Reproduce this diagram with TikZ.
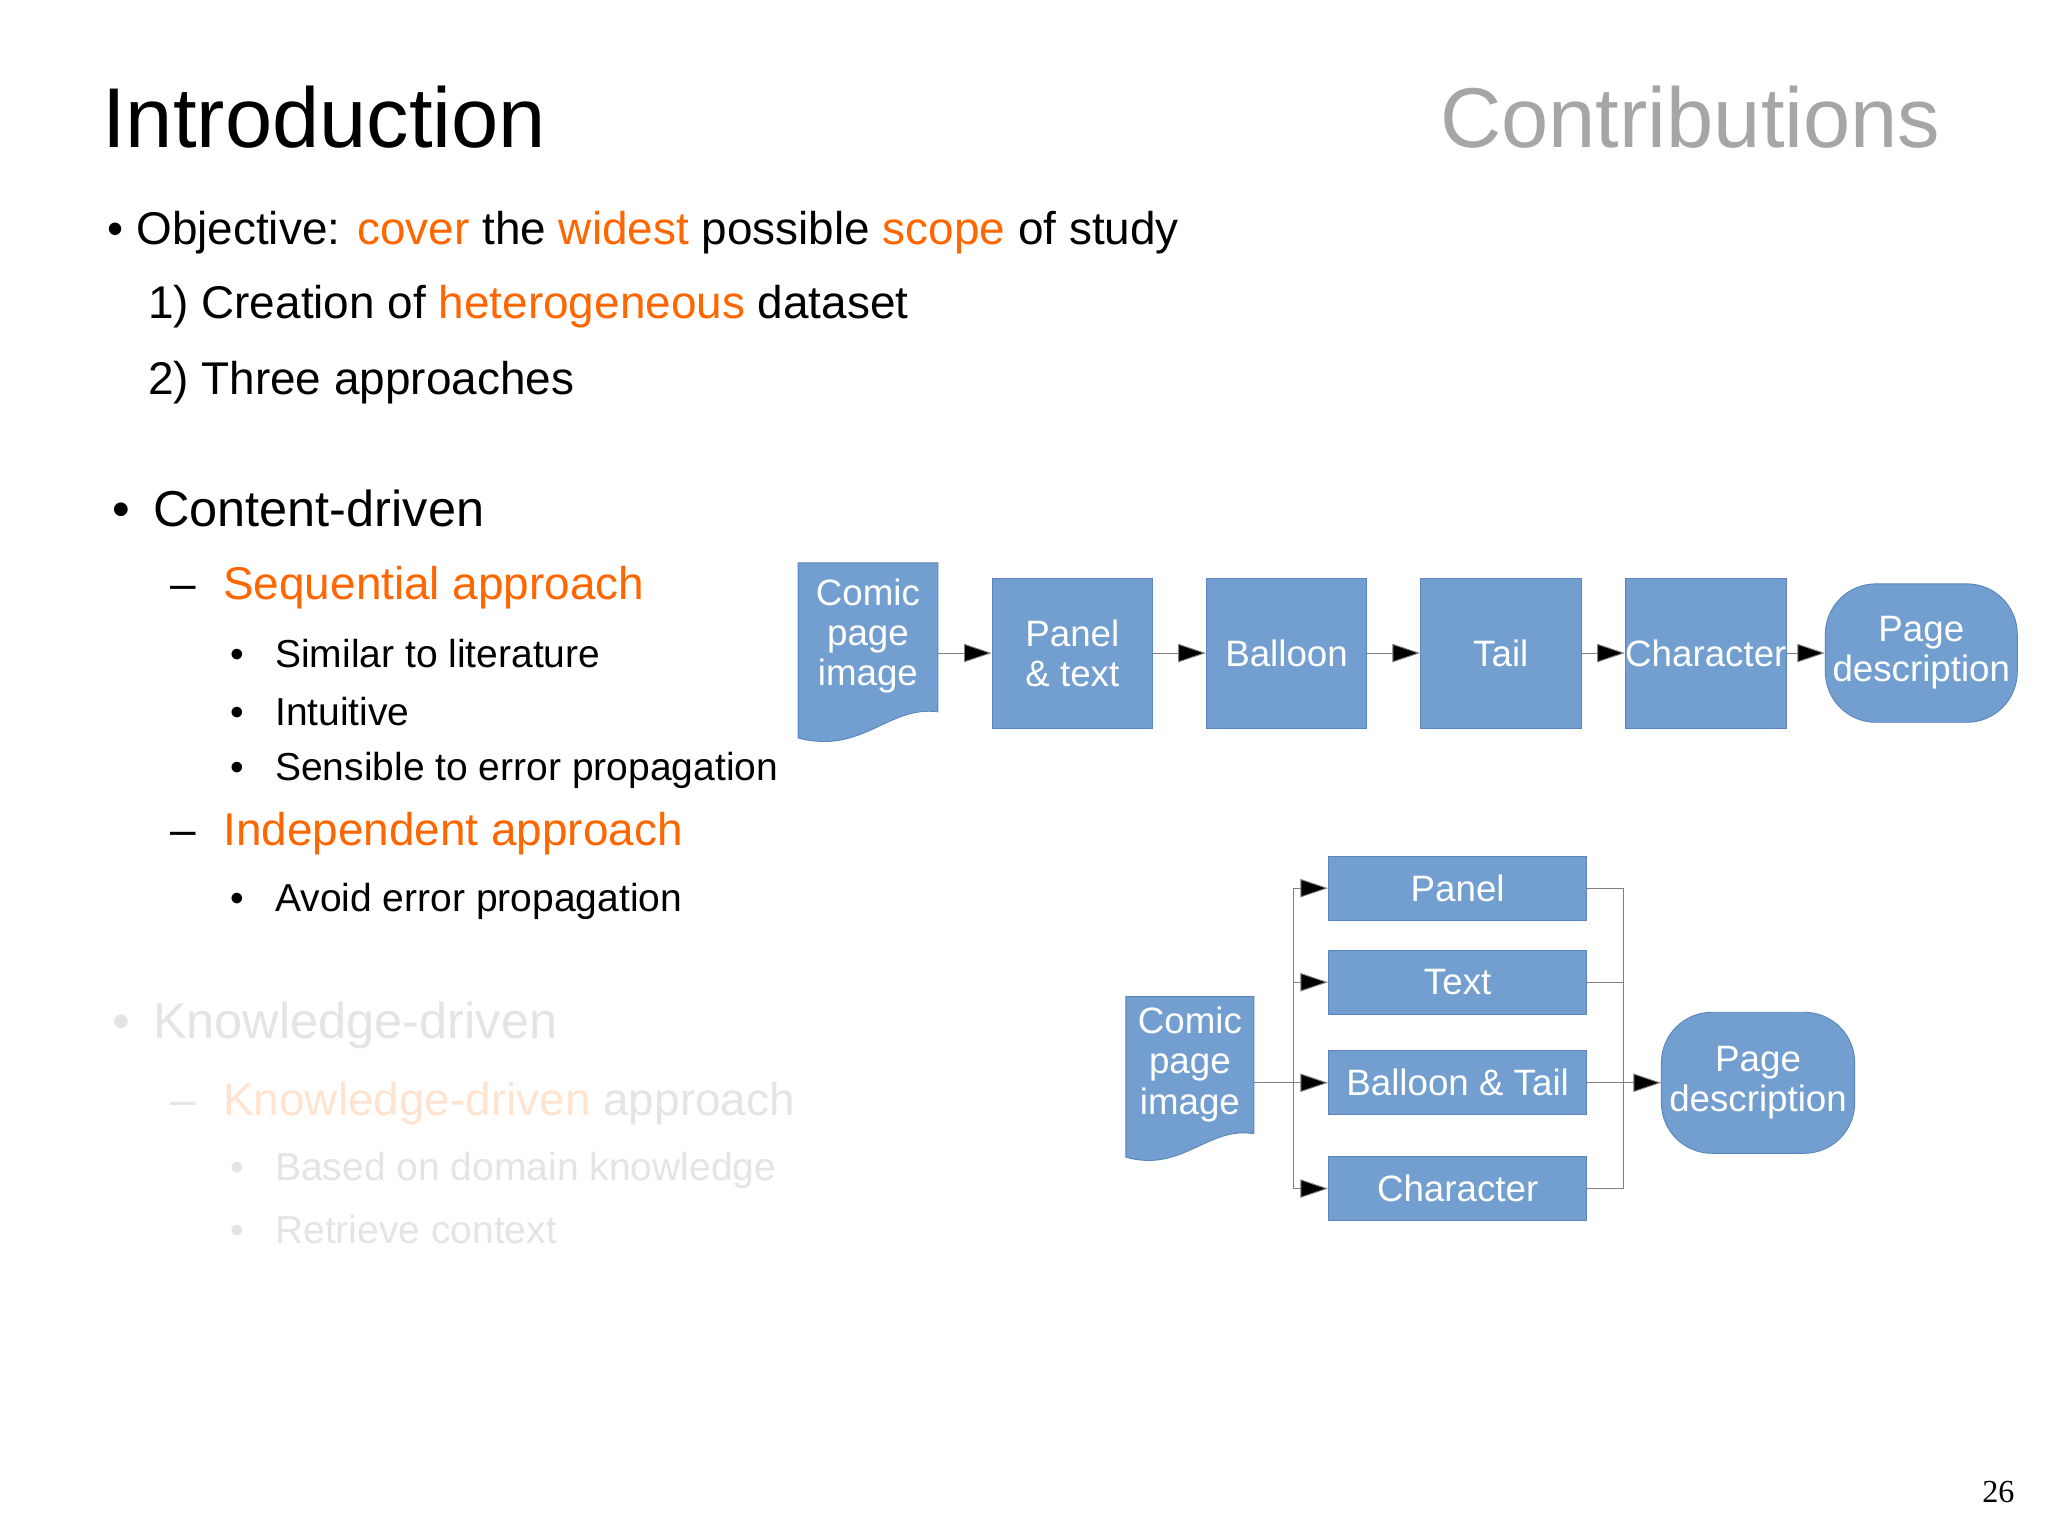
\documentclass[tikz,border=0pt]{standalone}
\usepackage{fontspec}
\setmainfont{Liberation Sans}
\usetikzlibrary{arrows.meta,positioning}
\definecolor{boxblue}{HTML}{729FCF}
\definecolor{boxline}{HTML}{5B86BD}
\definecolor{hiorange}{HTML}{FF6600}
\definecolor{fadegray}{HTML}{E4E4E4}
\definecolor{fadeorange}{HTML}{FFE3D1}
\definecolor{titlegray}{HTML}{A6A6A6}
\newcommand{\hi}[1]{\textcolor{hiorange}{#1}}
\begin{document}
\begin{tikzpicture}[x=0.02cm,y=-0.02cm,% one unit is one pixel of the slide
		every node/.style={inner sep=0pt},
		stage/.style={rectangle,draw=boxline,fill=boxblue,text=white,align=center,
			font=\fontsize{16}{17.5}\selectfont},
		page/.style={stage,rounded corners=22pt},
		doc/.style={text=white,align=center,font=\fontsize{16}{17.5}\selectfont},
		flow/.style={draw=gray,thin,-{Triangle[length=12pt,width=8pt,fill=black]}},
		bus/.style={draw=gray,thin},
		body/.style={anchor=west,font=\fontsize{20}{24}\selectfont},
		sub/.style={anchor=west,font=\fontsize{17}{20}\selectfont}
	]
	\useasboundingbox[fill=white] (0,0) rectangle (1568,1175);
	% titles
	\node[anchor=west,font=\fontsize{37}{40}\selectfont](T1) at (78,90){Introduction};
	\node[anchor=east,text=titlegray,font=\fontsize{37}{40}\selectfont](T2) at (1486,90){Contributions};
	% text on the left
	\node[body](L1) at (82,178){• Objective: \hi{cover} the \hi{widest} possible \hi{scope} of study};
	\node[body](L2) at (113,235){1) Creation of \hi{heterogeneous} dataset};
	\node[body](L3) at (113,293){2) Three approaches};
	\node[anchor=west,font=\fontsize{22}{26}\selectfont](L4) at (86,389){•\hspace{0.45em}Content-driven};
	\node[body](L5) at (130,450){–\hspace{0.6em}\hi{Sequential approach}};
	\node[sub](L6) at (176,500){•\hspace{0.8em}Similar to literature};
	\node[sub](L7) at (176,545){•\hspace{0.8em}Intuitive};
	\node[sub](L8) at (176,590){•\hspace{0.8em}Sensible to error propagation};
	\node[body](L9) at (130,638){–\hspace{0.6em}\hi{Independent approach}};
	\node[sub](L10) at (176,690){•\hspace{0.8em}Avoid error propagation};
	\node[anchor=west,text=fadegray,font=\fontsize{22}{26}\selectfont](K1) at (86,785){•\hspace{0.45em}Knowledge-driven};
	\node[body,text=fadegray](K2) at (130,845){–\hspace{0.6em}\textcolor{fadeorange}{Knowledge-driven} approach};
	\node[sub,text=fadegray](K3) at (176,896){•\hspace{0.8em}Based on domain knowledge};
	\node[sub,text=fadegray](K4) at (176,941){•\hspace{0.8em}Retrieve context};
	\node[font=\fontsize{14}{16}\selectfont](N) at (1530,1142){\fontspec{Liberation Serif}26};
	% sequential chain
	\filldraw[draw=boxline,fill=boxblue] (611,431) -- (718,431) -- (718,545)
		.. controls (680,540) and (660,578) .. (611,565) -- cycle;
	\node[doc](S0) at (664.5,487){Comic\\page\\image};
	\node[stage,minimum width=2.46cm,minimum height=2.3cm](S1) at (821,500){Panel\\\& text};
	\node[stage,minimum width=2.46cm,minimum height=2.3cm](S2) at (985,500){Balloon};
	\node[stage,minimum width=2.46cm,minimum height=2.3cm](S3) at (1149,500){Tail};
	\node[stage,minimum width=2.46cm,minimum height=2.3cm](S4) at (1306,500){Character};
	\node[page,minimum width=2.94cm,minimum height=2.12cm](S5) at (1471,500){Page\\description};
	\coordinate (S0e) at (718,500);
	\draw[flow] (S0e) -- (S1);
	\draw[flow] (S1) -- (S2);
	\draw[flow] (S2) -- (S3);
	\draw[flow] (S3) -- (S4);
	\draw[flow] (S4) -- (S5);
	% independent branches
	\filldraw[draw=boxline,fill=boxblue] (862,763) -- (960,763) -- (960,868)
		.. controls (925,862) and (905,898) .. (862,886) -- cycle;
	\node[doc](I0) at (911,815){Comic\\page\\image};
	\node[stage,minimum width=3.96cm,minimum height=0.98cm](I1) at (1116,680){Panel};
	\node[stage,minimum width=3.96cm,minimum height=0.98cm](I2) at (1116,752){Text};
	\node[stage,minimum width=3.96cm,minimum height=0.98cm](I3) at (1116,829){Balloon \& Tail};
	\node[stage,minimum width=3.96cm,minimum height=0.98cm](I4) at (1116,910){Character};
	\node[page,minimum width=2.96cm,minimum height=2.16cm](I5) at (1346,829){Page\\description};
	\coordinate (I0e) at (960,829);
	\coordinate (B1) at (990,829);
	\coordinate (B2) at (1243,829);
	\draw[bus] (I0e) -- (B1);
	\foreach \n in {I1,I2,I3,I4}{
		\draw[flow] (B1) |- (\n.west);
		\draw[bus] (\n.east) -| (B2);
	}
	\draw[flow] (B2) -- (I5);
\end{tikzpicture}
\end{document}
